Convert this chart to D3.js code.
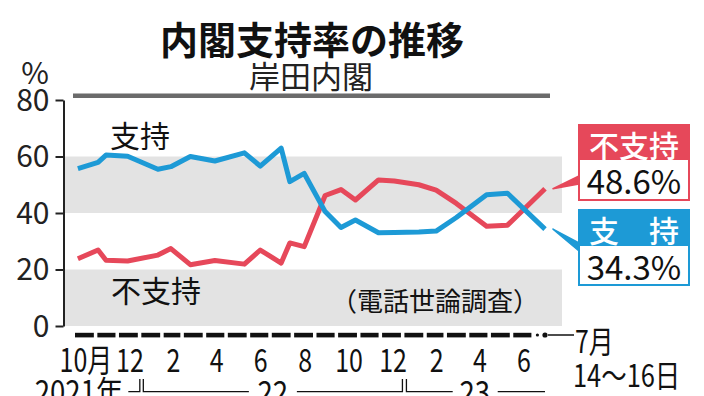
<!DOCTYPE html>
<html><head><meta charset="utf-8">
<script src="https://cdn.jsdelivr.net/npm/d3@7"></script>
<style>
html,body{margin:0;padding:0;background:#fff;}
svg{display:block;}
text{font-family:"Noto Sans CJK JP","Noto Sans",sans-serif;}
</style></head>
<body>
<svg id="c" width="704" height="396"></svg>
<script>
// ---- data ----
const surveyDates = ["2021-10-05","2021-11-02","2021-11-13","2021-12-13","2022-01-24","2022-02-11","2022-03-10","2022-04-13","2022-05-24","2022-06-15","2022-07-14","2022-07-26","2022-08-15","2022-09-13","2022-10-05","2022-10-25","2022-11-26","2022-12-18","2023-01-21","2023-02-14","2023-03-14","2023-04-25","2023-05-24","2023-07-15"];
const support = [55.7,57.9,60.5,60.1,55.5,56.4,60.0,58.4,61.3,56.6,63.0,51.1,54.0,40.5,34.9,37.5,33.0,33.1,33.3,33.6,38.4,46.5,47.0,34.3];
const oppose  = [23.8,26.9,23.3,23.0,25.1,27.4,21.7,23.2,21.9,26.9,22.3,29.4,28.1,46.2,48.3,44.6,51.7,51.3,50.0,48.1,43.4,35.3,35.7,48.6];
const yTicks = [0,20,40,60,80];
const xTickMonths = ["2021-10","2021-12","2022-02","2022-04","2022-06","2022-08","2022-10","2022-12","2023-02","2023-04","2023-06"];
const xTickLabels = ["10月","12","2","4","6","8","10","12","2","4","6"];
const yearLabels = ["2021年","22","23"];
const title = "内閣支持率の推移";
const subtitle = "岸田内閣";
const lastDateLabel = ["7月","14〜16日"];

// ---- setup ----
const svg = d3.select("#c");
const parse = d3.timeParse("%Y-%m-%d");
const parseM = d3.timeParse("%Y-%m");
const dates = surveyDates.map(parse);
const t0 = new Date(2021,9,1), t1 = new Date(2023,6,1);
const x = d3.scaleTime().domain([t0,t1]).range([75, 75+21*21.9]);
const y = d3.scaleLinear().domain([0,80]).range([326,100]);
const BLUE = "#1d9ad6", RED = "#e6485a", GRAY = "#e3e3e3";
const plotL = 65, plotR = 562;
const lastX = x(dates[dates.length-1]);

function squeeze(sel, sx){
  sel.each(function(){
    const len = this.getComputedTextLength();
    d3.select(this).attr("textLength", len*sx).attr("lengthAdjust","spacingAndGlyphs");
  });
  return sel;
}

// bands
[[40,60],[0,20]].forEach(b=>{
  svg.append("rect").attr("x",plotL).attr("width",plotR-plotL)
    .attr("y",y(b[1])).attr("height",y(b[0])-y(b[1])).attr("fill",GRAY);
});

// title
svg.append("text").attr("x",312).attr("y",37).attr("text-anchor","middle")
  .attr("dominant-baseline","central").attr("font-size",38).attr("font-weight",700)
  .attr("fill","#111").text(title);
svg.append("text").attr("x",311).attr("y",74).attr("text-anchor","middle")
  .attr("dominant-baseline","central").attr("font-size",31).attr("fill","#222").text(subtitle);
svg.append("rect").attr("x",x(t0)-2).attr("y",93.5).attr("width",lastX+5-(x(t0)-2)).attr("height",4.5).attr("fill","#6b6b6b");

// % label
svg.append("text").attr("x",35).attr("y",71).attr("text-anchor","middle")
  .attr("dominant-baseline","central").attr("font-size",30).attr("fill","#222").text("%");

// y axis
const yAxis = svg.append("g").attr("transform","translate(63.5,0)")
  .call(d3.axisLeft(y).tickValues(yTicks).tickSize(8).tickSizeOuter(0).tickPadding(6));
yAxis.select(".domain").attr("stroke","#222").attr("stroke-width",2);
yAxis.selectAll(".tick line").attr("stroke","#222").attr("stroke-width",2);
yAxis.selectAll(".tick text").attr("font-size",30).attr("fill","#222")
  .attr("font-family","'Noto Sans CJK JP'").attr("dy","0.34em");

// x axis dashes
const months = d3.timeMonth.range(t0, t1);
svg.append("g").selectAll("rect").data(months).join("rect")
  .attr("x",d=>x(d)).attr("width",d=>x(d3.timeMonth.offset(d,1))-3.5-x(d))
  .attr("y",332.8).attr("height",4.6).attr("fill","#111");
svg.append("circle").attr("cx",x(t1)+2.5).attr("cy",335).attr("r",1.6).attr("fill","#111");
svg.append("circle").attr("cx",lastX).attr("cy",335).attr("r",2.6).attr("fill","#111");
svg.append("line").attr("x1",lastX+3).attr("x2",574).attr("y1",335).attr("y2",335)
  .attr("stroke","#111").attr("stroke-width",1.5);

// x tick labels
const xl = svg.append("g").selectAll("text").data(xTickMonths).join("text")
  .attr("x",(d,i)=>{const m=parseM(d);return (x(m)+x(d3.timeMonth.offset(m,1))-3.5)/2+1.5;})
  .attr("y",357.5).attr("text-anchor","middle").attr("dominant-baseline","central")
  .attr("font-size",32).attr("fill","#111").text((d,i)=>xTickLabels[i]);
squeeze(xl,0.78);

// last date label
squeeze(svg.append("text").attr("x",575).attr("y",339).attr("dominant-baseline","central")
  .attr("font-size",31).attr("fill","#111").text(lastDateLabel[0]),0.8);
squeeze(svg.append("text").attr("x",573).attr("y",373).attr("dominant-baseline","central")
  .attr("font-size",31).attr("fill","#111").text(lastDateLabel[1]),0.82);

// year labels & brackets
const b1 = x(new Date(2022,0,1)), b2 = x(new Date(2023,0,1));
const by = 391.7, btop = 379;
const bg = svg.append("g").attr("stroke","#111").attr("stroke-width",1.3).attr("fill","none");
bg.append("path").attr("d",`M${b1-18+5},${by}H${b1-1.5}V${btop}`);
bg.append("path").attr("d",`M${b1+2},${btop}V${by}H${(b1+b2)/2-24}M${(b1+b2)/2+24},${by}H${b2-2}V${btop}`);
bg.append("path").attr("d",`M${b2+2},${btop}V${by}H${(b2+lastX)/2-22}M${(b2+lastX)/2+23},${by}H${lastX}`);
const yl = [
  svg.append("text").attr("x",b1-18).attr("text-anchor","end").text(yearLabels[0]),
  svg.append("text").attr("x",(b1+b2)/2).attr("text-anchor","middle").text(yearLabels[1]),
  svg.append("text").attr("x",(b2+lastX)/2).attr("text-anchor","middle").text(yearLabels[2])
];
yl.forEach(s=>{s.attr("y",390).attr("dominant-baseline","central").attr("font-size",32).attr("fill","#111");squeeze(s,0.86);});

// lines
const line = d3.line().x((d,i)=>x(dates[i])).y(d=>y(d));
svg.append("path").attr("d",line(oppose)).attr("fill","none").attr("stroke",RED)
  .attr("stroke-width",5).attr("stroke-linejoin","round");
svg.append("path").attr("d",line(support)).attr("fill","none").attr("stroke",BLUE)
  .attr("stroke-width",5).attr("stroke-linejoin","round");

// inline labels
svg.append("text").attr("x",140).attr("y",133.5).attr("text-anchor","middle").attr("dominant-baseline","central")
  .attr("font-size",30).attr("fill","#111").text("支持");
svg.append("text").attr("x",156).attr("y",288.5).attr("text-anchor","middle").attr("dominant-baseline","central")
  .attr("font-size",30).attr("fill","#111").text("不支持");
svg.append("text").attr("x",435).attr("y",299).attr("text-anchor","middle").attr("dominant-baseline","central")
  .attr("font-size",26).attr("fill","#111").text("（電話世論調査）");

// callouts
function callout(top, headH, boxH, color, head, value, leaderY, boxY){
  const bx=579, bw=110;
  const ly = y(leaderY);
  svg.append("path").attr("d",`M${lastX+8},${ly}L${bx},${boxY-4}L${bx},${boxY+4}Z`)
    .attr("fill",color).attr("stroke",color).attr("stroke-width",1.5).attr("stroke-linejoin","round");
  svg.append("rect").attr("x",bx).attr("y",top).attr("width",bw).attr("height",boxH)
    .attr("fill","#fff").attr("stroke",color).attr("stroke-width",2);
  svg.append("rect").attr("x",bx).attr("y",top).attr("width",bw).attr("height",headH).attr("fill",color);
  svg.append("text").attr("x",bx+bw/2).attr("y",top+headH/2+1).attr("text-anchor","middle")
    .attr("dominant-baseline","central").attr("font-size",30).attr("font-weight",500).attr("fill","#fff").text(head);
  svg.append("text").attr("x",bx+bw/2).attr("y",top+headH+(boxH-headH)/2).attr("text-anchor","middle")
    .attr("dominant-baseline","central").attr("font-size",33).attr("fill","#111").text(value);
}
const li = oppose.length-1;
callout(125,35,75,RED,"不支持",oppose[li].toFixed(1)+"%",oppose[li],180);
callout(210,36,75,BLUE,"支　持",support[li].toFixed(1)+"%",support[li],247);
</script>
</body></html>
